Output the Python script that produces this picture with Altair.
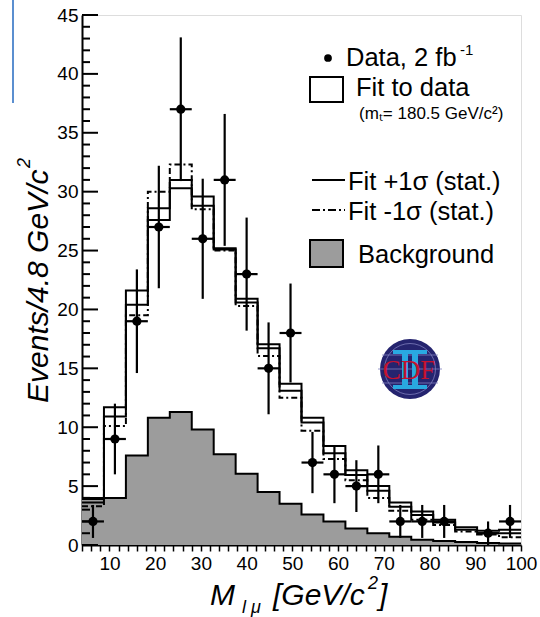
import altair as alt
import pandas as pd

# ---------------- data ----------------
bin_lo = 4.0
bin_w = 4.8
n_bins = 20

data_counts = [2, 9, 19, 27, 37, 26, 31, 23, 15, 18, 7, 6, 5, 6, 2, 2, 2, None, 1, 2]
data_errs = [1.4, 3.0, 4.4, 5.2, 6.1, 5.1, 5.6, 4.8, 3.9, 4.2, 2.6, 2.45, 2.2, 2.45, 1.4, 1.4, 1.4, None, 1.0, 1.4]
fit_central = [3.6, 10.9, 20.4, 28.6, 31.0, 28.8, 25.1, 20.6, 16.7, 13.1, 10.4, 7.8, 5.95, 4.6, 3.25, 2.55, 1.9, 1.3, 1.0, 1.0]
fit_plus = [3.9, 11.7, 21.6, 27.6, 30.3, 29.6, 25.2, 20.9, 17.05, 13.7, 10.8, 8.4, 6.35, 5.0, 3.6, 2.85, 2.15, 1.5, 1.2, 1.3]
fit_minus = [3.3, 10.1, 19.5, 30.0, 32.3, 28.5, 25.0, 20.3, 16.05, 12.5, 9.7, 7.3, 5.5, 4.0, 2.9, 2.15, 1.7, 1.15, 0.9, 0.65]
background = [4.0, 4.0, 7.6, 10.8, 11.3, 9.8, 7.7, 6.05, 4.5, 3.5, 2.6, 2.0, 1.4, 1.0, 0.7, 0.45, 0.35, 0.25, 0.18, 0.12]

x_tick_labels = [10, 20, 30, 40, 50, 60, 70, 80, 90, 100]
y_tick_labels = [0, 5, 10, 15, 20, 25, 30, 35, 40, 45]

# ---------------- tables ----------------
edges = [bin_lo + bin_w * i for i in range(n_bins + 1)]


def step_df(vals):
    return pd.DataFrame({"x": edges, "y": list(vals) + [vals[-1]]})


pts = pd.DataFrame({
    "left": edges[:-1],
    "right": edges[1:],
    "y": data_counts,
    "err": data_errs,
})
pts = pts.dropna().copy()
pts["x"] = (pts["left"] + pts["right"]) / 2
pts["lo"] = pts["y"] - pts["err"]
pts["hi"] = pts["y"] + pts["err"]

FONT = "Liberation Sans"
xscale = alt.Scale(domain=[4, 100], nice=False, zero=False)
yscale = alt.Scale(domain=[0, 45], nice=False, zero=False)

xaxis = alt.Axis(
    values=list(range(4, 101, 2)),
    labelExpr="datum.value % 10 === 0 ? format(datum.value, 'd') : ''",
    tickSize=6, tickWidth=1.5, tickColor="black",
    domainWidth=2, domainColor="black",
    labelFont=FONT, labelFontSize=19, labelColor="black", labelPadding=3,
    labelFlush=False, labelOverlap=False, grid=False,
)
yaxis = alt.Axis(
    values=y_tick_labels, tickSize=0,
    domainWidth=2, domainColor="black",
    labelFont=FONT, labelFontSize=19, labelColor="black", labelPadding=4,
    labelOverlap=False, grid=False,
)


def X(f="x"):
    return alt.X(f"{f}:Q", scale=xscale, axis=xaxis, title=None)


def Y(f="y"):
    return alt.Y(f"{f}:Q", scale=yscale, axis=yaxis, title=None)


one = pd.DataFrame({"a": [0]})

# background filled area + outline
bg_area = alt.Chart(step_df(background)).mark_area(
    interpolate="step-after", color="#9c9c9c").encode(x=X(), y=Y())
bg_line = alt.Chart(step_df(background)).mark_line(
    interpolate="step-after", color="black", strokeWidth=2).encode(x=X(), y=Y())

fit_c = alt.Chart(step_df(fit_central)).mark_line(
    interpolate="step-after", color="black", strokeWidth=2).encode(x=X(), y=Y())
fit_p = alt.Chart(step_df(fit_plus)).mark_line(
    interpolate="step-after", color="black", strokeWidth=2).encode(x=X(), y=Y())
fit_m = alt.Chart(step_df(fit_minus)).mark_line(
    interpolate="step-after", color="black", strokeWidth=2,
    strokeDash=[6, 3, 2, 3]).encode(x=X(), y=Y())

# inward y ticks
y_major = pd.DataFrame({"y": y_tick_labels})
y_minor = pd.DataFrame({"y": [v for v in range(0, 46) if v % 5]})
ytick_major = alt.Chart(y_major).mark_rule(color="black", strokeWidth=2).encode(
    y=Y(), x=alt.value(0), x2=alt.value(16))
ytick_minor = alt.Chart(y_minor).mark_rule(color="black", strokeWidth=2).encode(
    y=Y(), x=alt.value(0), x2=alt.value(8))

# data points with error bars
err_v = alt.Chart(pts).mark_rule(color="black", strokeWidth=2.2).encode(
    x=X(), y=Y("lo"), y2="hi:Q")
err_h = alt.Chart(pts).mark_rule(color="black", strokeWidth=2.2).encode(
    x=X("left"), x2="right:Q", y=Y())
dots = alt.Chart(pts).mark_point(filled=True, color="black", size=85, opacity=1).encode(
    x=X(), y=Y())


# ---------------- legend ----------------
def txt(s, x, y, size=25.5, **kw):
    return alt.Chart(one).mark_text(
        text=s, font=FONT, fontSize=size, color="black", align="left",
        baseline="alphabetic", **kw).encode(x=alt.value(x), y=alt.value(y))


def box(x1, x2, y1, y2, fill, stroke="black", sw=2):
    return alt.Chart(one).mark_rect(fill=fill, stroke=stroke, strokeWidth=sw).encode(
        x=alt.value(x1), x2=alt.value(x2), y=alt.value(y1), y2=alt.value(y2))


leg = [
    alt.Chart(one).mark_point(filled=True, color="black", size=60, opacity=1).encode(
        x=alt.value(246), y=alt.value(43)),
    txt("Data, 2 fb", 264, 51),
    txt("-1", 378, 40, size=15),
    box(228, 261, 62, 87, "white"),
    txt("Fit to data", 274, 81),
    txt("(m\u209c= 180.5 GeV/c\u00b2)", 277, 104, size=17),
    alt.Chart(one).mark_rule(color="black", strokeWidth=2).encode(
        x=alt.value(230), x2=alt.value(263), y=alt.value(165)),
    txt("Fit +1\u03c3 (stat.)", 266, 175),
    alt.Chart(one).mark_rule(color="black", strokeWidth=2, strokeDash=[8, 3, 2, 3]).encode(
        x=alt.value(230), x2=alt.value(263), y=alt.value(195)),
    txt("Fit -1\u03c3 (stat.)", 266, 205),
    box(228, 261, 225, 252, "#9c9c9c"),
    txt("Background", 276, 248),
]

# ---------------- axis titles ----------------
titles = [
    alt.Chart(one).mark_text(text="Events/4.8 GeV/c", font=FONT, fontSize=30, fontStyle="italic",
                             angle=270, align="left", baseline="alphabetic", color="black").encode(
        x=alt.value(-34), y=alt.value(388)),
    alt.Chart(one).mark_text(text="2", font=FONT, fontSize=18, fontStyle="italic",
                             angle=270, align="left", baseline="alphabetic", color="black").encode(
        x=alt.value(-52), y=alt.value(153)),
    txt("M", 128, 590, size=30, fontStyle="italic"),
    txt("l \u03bc", 160, 598, size=18, fontStyle="italic"),
    txt("[GeV/c", 191, 590, size=30, fontStyle="italic"),
    txt("2", 286, 574, size=18, fontStyle="italic"),
    txt("]", 297, 590, size=30, fontStyle="italic"),
]

# ---------------- decorations: CDF logo and blue margin line ----------------
CYAN = "#29a9e1"
deco = [
    alt.Chart(one).mark_rule(color="#5b8fd0", strokeWidth=2).encode(
        x=alt.value(-69), y=alt.value(-15), y2=alt.value(88)),
    alt.Chart(one).mark_point(filled=True, shape="circle", size=3600, color="#25246f",
                              opacity=1).encode(x=alt.value(328), y=alt.value(354)),
    alt.Chart(one).mark_point(filled=False, shape="circle", size=2600, color="#7d7dbd",
                              strokeWidth=0.8, opacity=1).encode(x=alt.value(328), y=alt.value(354)),
    alt.Chart(one).mark_rule(color="#7d7dbd", strokeWidth=0.8).encode(
        x=alt.value(296), x2=alt.value(360), y=alt.value(354)),
    alt.Chart(one).mark_rule(color="#7d7dbd", strokeWidth=0.8).encode(
        x=alt.value(300), x2=alt.value(356), y=alt.value(340)),
    alt.Chart(one).mark_rule(color="#7d7dbd", strokeWidth=0.8).encode(
        x=alt.value(300), x2=alt.value(356), y=alt.value(368)),
    # roman numeral II
    box(311, 345, 335, 339, CYAN, stroke=CYAN, sw=0),
    box(311, 345, 370, 374, CYAN, stroke=CYAN, sw=0),
    box(320, 326, 337, 372, CYAN, stroke=CYAN, sw=0),
    box(330, 336, 337, 372, CYAN, stroke=CYAN, sw=0),
    alt.Chart(one).mark_text(text="CDF", font="Liberation Serif", fontSize=27,
                             color="#c4122f", align="center", baseline="middle").encode(
        x=alt.value(327), y=alt.value(356)),
]

chart = alt.layer(
    bg_area, bg_line, fit_c, fit_p, fit_m,
    ytick_major, ytick_minor,
    err_v, err_h, dots,
    *leg, *titles, *deco,
).properties(
    width=439, height=530,
    padding={"left": 82, "top": 15, "right": 19, "bottom": 72},
    autosize=alt.AutoSizeParams(type="none"),
).configure_view(stroke="black", strokeWidth=2).configure(background="white")

chart.save("out.html", embed_options={"renderer": "svg", "actions": False})
